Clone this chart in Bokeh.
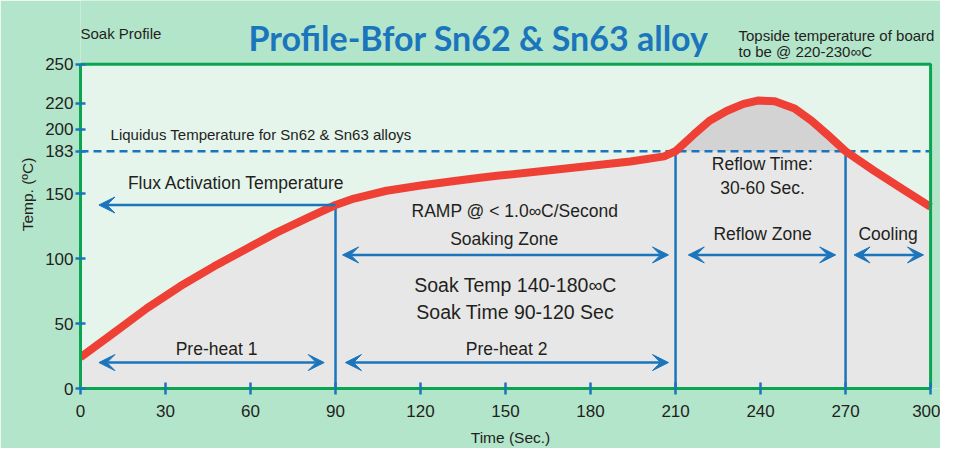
import numpy as np
from bokeh.plotting import figure
from bokeh.models import Label, Arrow, VeeHead, FixedTicker, Range1d
from bokeh.embed import file_html
from bokeh.resources import INLINE

# ---- data ----
time_s = [0, 11.8, 23.5, 35.3, 47, 58.8, 69, 80.5, 90, 96.5, 108, 120, 132, 141, 147,
          170.5, 194, 206, 210, 216.5, 222, 228, 234, 239, 245, 252, 258, 264, 270,
          280, 290, 300]
temp_c = [24, 43, 62, 79, 94, 108, 120, 132, 141.5, 146.5, 152.5, 156.5, 160, 162.5, 164,
          169.5, 175, 179, 183, 196, 206.5, 214, 219.5, 222, 221.5, 216, 206.5, 195, 183,
          168, 154, 140]
liquidus_c = 183
zone_edges = [90, 210, 270]
x_ticks = [0, 30, 60, 90, 120, 150, 180, 210, 240, 270, 300]
y_ticks = [0, 50, 100, 150, 183, 200, 220, 250]

# arrows: (x_start, x_end, y, double-headed)
arrow_x0 = [90, 6.5, 93.5, 92.5, 214.5, 273]
arrow_x1 = [6.5, 86, 207.5, 207.5, 266.5, 297.5]
arrow_y = [141.5, 20, 20, 103, 103, 103]
arrow_double = [False, True, True, True, True, True]

# annotations: text, x, y, font size, align
ann_text = ["Flux Activation Temperature", "Liquidus Temperature for Sn62 & Sn63 alloys",
            "RAMP @ < 1.0\u221eC/Second", "Soaking Zone", "Soak Temp 140-180\u221eC",
            "Soak Time 90-120 Sec", "Reflow Time:", "30-60 Sec.", "Reflow Zone", "Cooling",
            "Pre-heat 1", "Pre-heat 2", "Soak Profile", "Topside temperature of board",
            "to be @ 220-230\u221eC"]
ann_x = [55, 10.6, 153.3, 149.5, 153.5, 153.4, 240.7, 240.7, 240.7, 285, 48, 150.4,
         0, 232.2, 232.2]
ann_y = [158.5, 196, 137, 115.4, 80, 59, 173, 154.5, 119, 119, 30.8, 30.8,
         273.8, 272.3, 260.2]
ann_size = ["17.5px", "15px", "17.5px", "17.5px", "19.5px", "19.5px", "17.5px", "17.5px",
            "17.5px", "17.5px", "17.5px", "17.5px", "15px", "15px", "15px"]
ann_align = ["center", "left", "center", "center", "center", "center", "center", "center",
             "center", "center", "center", "center", "left", "left", "left"]
title_text = "Profile-Bfor Sn62 & Sn63 alloy"

OUTER = "#b3e5cb"
INNER = "#e5f5ec"
GRAY = "#e7e7e7"
DARK = "#d3d3d3"
GREEN = "#0aa551"
BLUE = "#1b75bc"
RED = "#ee4035"
TXT = "#231f20"
FONT = "Liberation Sans"

x_max = x_ticks[-1]
y_max = y_ticks[-1]

p = figure(width=940, height=448, output_backend="svg", toolbar_location=None,
           x_range=Range1d(0, 303.5), y_range=Range1d(0, 299.2),
           min_border_left=80, min_border_right=0, min_border_top=0, min_border_bottom=59)
p.background_fill_color = OUTER
p.border_fill_color = OUTER
p.outline_line_color = None
p.grid.visible = False

t = np.array(time_s, dtype=float)
T = np.array(temp_c, dtype=float)
p.quad(left=0, right=x_max, bottom=0, top=y_max, fill_color=INNER, line_color=None)
p.varea(x=t, y1=0, y2=np.minimum(T, liquidus_c), fill_color=GRAY)
p.varea(x=t, y1=liquidus_c, y2=np.maximum(T, liquidus_c), fill_color=DARK)
p.segment(x0=[0], y0=[liquidus_c], x1=[x_max], y1=[liquidus_c],
          line_color=BLUE, line_width=2.5, line_dash="8 5")
tops = [min(float(np.interp(e, t, T)), liquidus_c) for e in zone_edges]
p.segment(x0=zone_edges, y0=[0] * len(zone_edges), x1=zone_edges, y1=tops,
          line_color=BLUE, line_width=2.5)
p.line(t, T, line_color=RED, line_width=8, line_join="round")
p.quad(left=0, right=x_max, bottom=0, top=y_max, fill_color=None,
       line_color=GREEN, line_width=3)

for x0, x1, y, dbl in zip(arrow_x0, arrow_x1, arrow_y, arrow_double):
    def head():
        return VeeHead(size=16, fill_color=BLUE, line_color=BLUE, line_width=1)
    p.add_layout(Arrow(x_start=x0, y_start=y, x_end=x1, y_end=y,
                       start=head() if dbl else None, end=head(),
                       line_color=BLUE, line_width=2.5))

for s, x, y, fs, al in zip(ann_text, ann_x, ann_y, ann_size, ann_align):
    p.add_layout(Label(x=x, y=y, text=s, text_font=FONT, text_font_size=fs,
                       text_color=TXT, text_align=al, text_baseline="middle"))

p.add_layout(Label(x=59.3, y=270.5, text=title_text, text_font="Lato",
                   text_font_style="bold", text_font_size="34px", text_color=BLUE,
                   text_baseline="alphabetic"))

for ax in (p.xaxis[0], p.yaxis[0]):
    ax.axis_line_color = GREEN
    ax.axis_line_width = 3
    ax.major_tick_line_color = BLUE
    ax.major_tick_line_width = 2.5
    ax.minor_tick_line_color = None
    ax.major_label_text_font = FONT
    ax.major_label_text_font_size = "17px"
    ax.major_label_text_color = TXT
    ax.axis_label_text_font = FONT
    ax.axis_label_text_font_size = "15.5px"
    ax.axis_label_text_font_style = "normal"
    ax.axis_label_text_color = TXT

p.xaxis.bounds = (0, x_max)
p.yaxis.bounds = (0, y_max)
p.xaxis.ticker = FixedTicker(ticks=x_ticks)
p.yaxis.ticker = FixedTicker(ticks=y_ticks)
p.xaxis.major_tick_in = 6
p.xaxis.major_tick_out = 6
p.yaxis.major_tick_in = 5
p.yaxis.major_tick_out = 5
p.xaxis.major_label_standoff = 10
p.yaxis.major_label_standoff = 2
p.xaxis.axis_label = "Time (Sec.)"
p.yaxis.axis_label = "Temp. (\u00baC)"
p.xaxis.axis_label_standoff = 9
p.yaxis.axis_label_standoff = 6

open("out.html", "w").write(file_html(p, INLINE))
